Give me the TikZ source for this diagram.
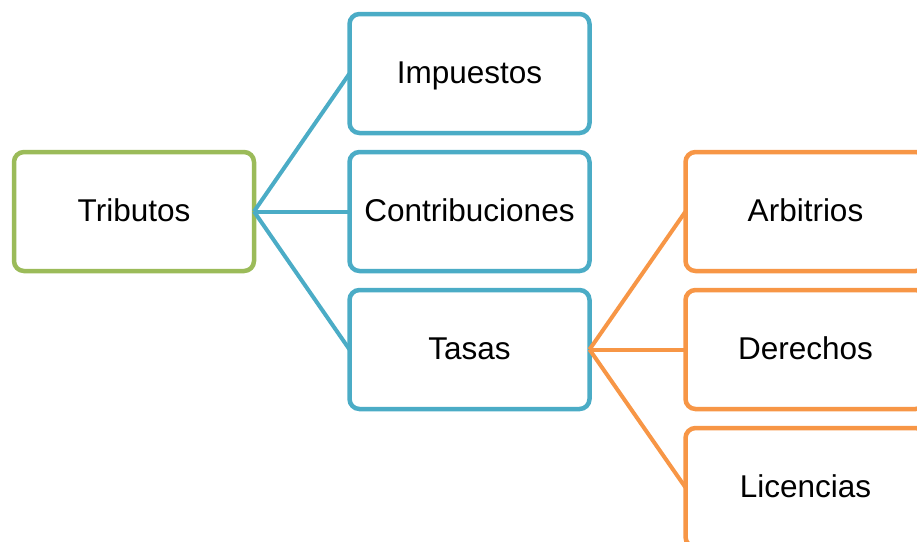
\documentclass[tikz,border=0pt]{standalone}
\usepackage{fontspec}
\setmainfont{Liberation Sans}
\definecolor{cgreen}{HTML}{9BBB59}
\definecolor{cblue}{HTML}{4BACC6}
\definecolor{corange}{HTML}{F79646}
\begin{document}
\begin{tikzpicture}[x=1pt,y=-1pt,
  box/.style={draw, line width=4.5pt, rounded corners=10pt, fill=white,
    minimum width=240pt, minimum height=119pt, inner sep=0pt, outer sep=0pt,
    text height=24pt, text depth=5pt,
    font=\fontsize{31.5}{37}\selectfont},
  link/.style={line width=4pt}]
\useasboundingbox (0,0) rectangle (917,541);
\clip (0,0) rectangle (917,541);
\node[box, draw=cgreen] (trib) at (134,211.5) {Tributos};
\node[box, draw=cblue] (imp) at (469.5,73.5) {Impuestos};
\node[box, draw=cblue] (con) at (469.5,211.5) {Contribuciones};
\node[box, draw=cblue] (tas) at (469.5,349.5) {Tasas};
\node[box, draw=corange] (arb) at (805.5,211.5) {Arbitrios};
\node[box, draw=corange] (der) at (805.5,349.5) {Derechos};
\node[box, draw=corange] (lic) at (805.5,487.5) {Licencias};
\draw[link, cblue] (trib.east) -- (imp.west);
\draw[link, cblue] (trib.east) -- (con.west);
\draw[link, cblue] (trib.east) -- (tas.west);
\draw[link, corange] (tas.east) -- (arb.west);
\draw[link, corange] (tas.east) -- (der.west);
\draw[link, corange] (tas.east) -- (lic.west);
\end{tikzpicture}
\end{document}
